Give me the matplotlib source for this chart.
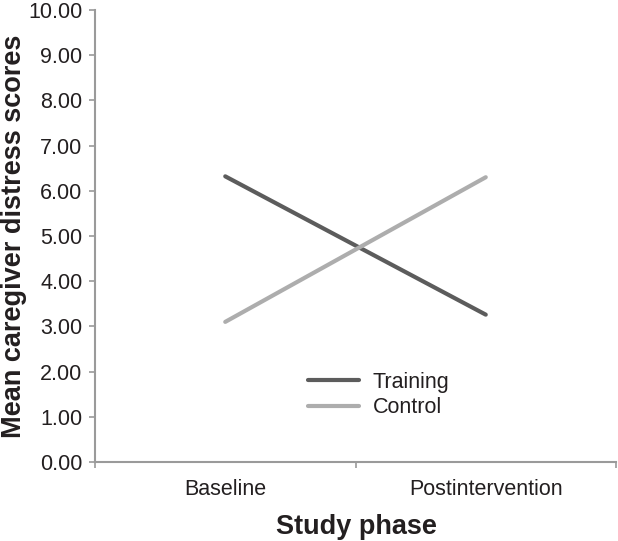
import matplotlib
matplotlib.use("Agg")
import matplotlib.pyplot as plt

plt.rcParams['font.family'] = ['Liberation Sans', 'DejaVu Sans']

phases = ["Baseline", "Postintervention"]
training = [6.32, 3.26]
control = [3.10, 6.30]
yticks = [0, 1, 2, 3, 4, 5, 6, 7, 8, 9, 10]

text_color = "#231f20"
axis_color = "#9a9a9a"

fig = plt.figure(figsize=(6.18, 5.41), dpi=100)
ax = fig.add_axes([95/618, 1-462/541, (616-95)/618, (462-10)/541])

x = list(range(len(phases)))
ax.plot(x, training, color="#5c5c5c", lw=3.0, solid_capstyle="round", label="Training")
ax.plot(x, control, color="#adadad", lw=3.0, solid_capstyle="round", label="Control")

ax.set_xlim(-0.5, len(phases) - 0.5)
ax.set_ylim(0, 10)
ax.set_yticks(yticks)
ax.set_yticklabels([f"{v:.2f}" for v in yticks])

ax.set_xticks([i - 0.5 for i in range(len(phases) + 1)])
ax.set_xticklabels([])
ax.set_xticks(x, minor=True)
ax.set_xticklabels(phases, minor=True)

for s in ["top", "right"]:
    ax.spines[s].set_visible(False)
for s in ["left", "bottom"]:
    ax.spines[s].set_color(axis_color)
    ax.spines[s].set_linewidth(1.5)

ax.tick_params(axis="y", which="major", length=4.5, width=1.2, color=axis_color,
               labelsize=15.5, labelcolor=text_color, pad=4.5)
ax.tick_params(axis="x", which="major", length=4, width=1.2, color=axis_color, direction="out")
ax.tick_params(axis="x", which="minor", length=0, labelsize=15.5, labelcolor=text_color, pad=12)

ax.set_ylabel("Mean caregiver distress scores", fontsize=19.5, fontweight="bold", color=text_color)
ax.yaxis.label.set_verticalalignment("center")
ax.yaxis.set_label_coords(-0.156, 0.5)
ax.set_xlabel("Study phase", fontsize=19.5, fontweight="bold", color=text_color)
ax.xaxis.label.set_verticalalignment("center")
ax.xaxis.set_label_coords(0.501, -0.144)

leg = ax.legend(loc="center left", bbox_to_anchor=(308/618, 1-395/541),
                bbox_transform=fig.transFigure, frameon=False, fontsize=15.5,
                handlelength=2.35, handletextpad=0.65, labelspacing=0.2,
                borderpad=0, borderaxespad=0)
for t in leg.get_texts():
    t.set_color(text_color)

fig.savefig("out.png", dpi=100)
